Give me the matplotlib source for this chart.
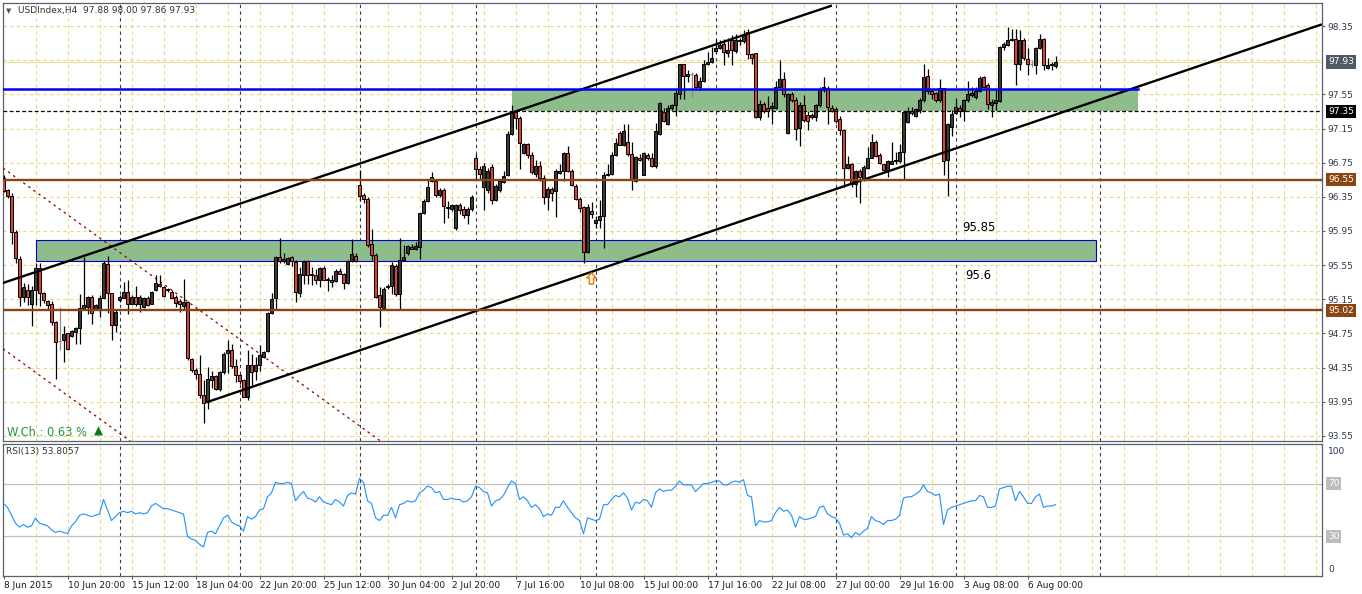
import matplotlib
matplotlib.use("Agg")
import matplotlib.pyplot as plt
from matplotlib.patches import Rectangle
from matplotlib.path import Path
from matplotlib.transforms import blended_transform_factory
import numpy as np

plt.rcParams['font.family'] = ['DejaVu Sans']

# ---------------- data (H4 bars, index 0 = 8 Jun 2015) ----------------
OPEN = [96.57, 96.43, 96.36, 95.94, 95.62, 95.18, 95.26, 95.10, 95.26, 95.52,
        95.22, 95.13, 95.09, 94.88, 94.66, 94.67, 94.75, 94.72, 94.77, 94.81,
        95.04, 95.06, 95.18, 95.03, 95.02, 95.17, 95.56, 95.22, 94.85, 95.14,
        95.17, 95.24, 95.10, 95.18, 95.10, 95.06, 95.16, 95.10, 95.26, 95.33,
        95.29, 95.27, 95.24, 95.18, 95.13, 95.07, 95.12, 94.45, 94.32, 94.27,
        94.03, 93.95, 94.21, 94.25, 94.10, 94.30, 94.52, 94.56, 94.37, 94.26,
        94.21, 94.01, 94.38, 94.31, 94.38, 94.47, 94.54, 94.99, 95.16, 95.65,
        95.60, 95.56, 95.64, 95.59, 95.22, 95.44, 95.60, 95.45, 95.44, 95.38,
        95.52, 95.39, 95.38, 95.36, 95.48, 95.45, 95.34, 95.60, 95.66, 96.49,
        96.37, 96.33, 95.80, 95.67, 95.20, 95.05, 95.30, 95.30, 95.54, 95.21,
        95.61, 95.69, 95.76, 95.74, 95.76, 96.155, 96.30, 96.58, 96.54, 96.37,
        96.43, 96.23, 96.21, 95.98, 96.25, 96.21, 96.14, 96.21, 96.80, 96.68,
        96.47, 96.43, 96.70, 96.31, 96.43, 96.52, 96.60, 97.08, 97.34, 97.27,
        96.86, 96.97, 96.84, 96.62, 96.71, 96.57, 96.35, 96.44, 96.42, 96.63,
        96.65, 96.86, 96.65, 96.48, 96.33, 96.23, 95.70, 96.18, 96.04, 96.08,
        96.12, 96.60, 96.62, 96.84, 97.10, 96.96, 96.99, 96.85, 96.54, 96.80,
        96.61, 96.84, 96.81, 96.71, 97.08, 97.34, 97.20, 97.39, 97.42, 97.56,
        97.90, 97.77, 97.79, 97.78, 97.64, 97.71, 97.90, 97.93, 98.06, 98.09,
        98.14, 98.04, 98.19, 98.06, 98.18, 98.17, 98.28, 98.02, 98.03, 97.28,
        97.44, 97.39, 97.39, 97.39, 97.64, 97.73, 97.10, 97.56, 97.48, 97.16,
        97.42, 97.31, 97.28, 97.28, 97.42, 97.60, 97.63, 97.39, 97.38, 97.26,
        97.13, 96.69, 96.74, 96.50, 96.65, 96.56, 96.69, 96.81, 96.99, 96.84,
        96.73, 96.66, 96.74, 96.77, 96.77, 96.88, 97.23, 97.35, 97.30, 97.37,
        97.48, 97.76, 97.59, 97.57, 97.48, 97.62, 96.78, 97.17, 97.33, 97.39,
        97.35, 97.48, 97.54, 97.52, 97.59, 97.75, 97.66, 97.43, 97.45, 97.47,
        98.10, 98.13, 98.19, 98.20, 97.90, 98.19, 97.96, 97.91, 97.89, 98.09,
        98.20, 97.86, 97.89, 97.88]

HIGH = [96.60, 96.44, 96.39, 95.96, 95.66, 95.34, 95.33, 95.30, 95.57, 95.57,
        95.23, 95.14, 95.13, 94.90, 95.06, 94.84, 94.76, 94.79, 94.83, 95.21,
        95.64, 95.19, 95.20, 95.09, 95.20, 95.60, 95.66, 95.22, 95.02, 95.20,
        95.35, 95.37, 95.20, 95.30, 95.20, 95.18, 95.19, 95.25, 95.43, 95.44,
        95.31, 95.28, 95.26, 95.20, 95.15, 95.39, 95.13, 94.46, 94.35, 94.50,
        94.20, 94.36, 94.31, 94.26, 94.31, 94.53, 94.67, 94.63, 94.45, 94.28,
        94.22, 94.56, 94.51, 94.47, 94.62, 94.54, 95.00, 95.22, 95.66, 95.87,
        95.69, 95.64, 95.66, 95.61, 95.53, 95.61, 95.61, 95.53, 95.51, 95.53,
        95.54, 95.41, 95.43, 95.50, 95.52, 95.46, 95.61, 95.86, 95.69, 96.66,
        96.39, 96.35, 95.97, 95.69, 95.29, 95.29, 95.33, 95.59, 95.56, 95.87,
        95.78, 95.78, 95.80, 95.82, 96.16, 96.33, 96.55, 96.64, 96.56, 96.45,
        96.45, 96.30, 96.27, 96.27, 96.28, 96.24, 96.23, 96.37, 96.85, 96.71,
        96.75, 96.69, 96.73, 96.50, 96.56, 96.65, 97.12, 97.43, 97.36, 97.30,
        96.98, 96.98, 96.88, 96.78, 96.77, 96.60, 96.46, 96.47, 96.67, 96.73,
        96.87, 96.94, 96.67, 96.50, 96.35, 96.24, 96.27, 96.29, 96.13, 96.31,
        96.64, 96.73, 96.87, 97.04, 97.12, 97.20, 97.20, 96.99, 96.83, 96.85,
        96.87, 96.86, 96.86, 97.21, 97.46, 97.39, 97.42, 97.44, 97.61, 97.91,
        97.91, 97.83, 97.81, 97.80, 97.75, 97.95, 98.05, 98.10, 98.20, 98.19,
        98.20, 98.21, 98.24, 98.26, 98.21, 98.30, 98.31, 98.03, 98.04, 97.48,
        97.46, 97.53, 97.46, 97.71, 97.95, 97.81, 97.57, 97.58, 97.52, 97.46,
        97.54, 97.36, 97.33, 97.44, 97.64, 97.75, 97.65, 97.42, 97.40, 97.30,
        97.14, 96.83, 96.75, 96.66, 96.68, 96.72, 96.93, 97.08, 97.01, 96.86,
        96.74, 96.78, 96.99, 96.87, 96.97, 97.35, 97.40, 97.40, 97.39, 97.51,
        97.91, 97.85, 97.61, 97.58, 97.73, 97.63, 97.21, 97.37, 97.51, 97.42,
        97.50, 97.71, 97.64, 97.64, 97.76, 97.76, 97.68, 97.50, 97.60, 98.12,
        98.16, 98.34, 98.32, 98.32, 98.30, 98.21, 98.09, 97.95, 98.10, 98.26,
        98.21, 97.98, 97.93, 98.00]

LOW = [96.41, 96.34, 95.80, 95.58, 95.07, 95.12, 95.08, 94.84, 95.08, 95.07,
       95.11, 95.02, 94.85, 94.22, 94.55, 94.41, 94.55, 94.71, 94.63, 94.63,
       95.04, 94.98, 94.86, 95.02, 94.94, 95.16, 94.99, 94.67, 94.77, 95.12,
       95.16, 94.98, 95.09, 95.07, 95.00, 95.05, 95.07, 95.09, 95.25, 95.29,
       95.18, 95.23, 95.16, 95.06, 95.00, 95.04, 94.44, 94.30, 94.22, 93.99,
       93.70, 93.87, 94.11, 94.09, 94.08, 94.28, 94.29, 94.35, 94.18, 94.16,
       94.00, 93.97, 94.15, 94.20, 94.31, 94.46, 94.53, 94.98, 95.04, 95.57,
       95.57, 95.55, 95.54, 95.12, 95.18, 95.33, 95.33, 95.32, 95.33, 95.29,
       95.37, 95.25, 95.29, 95.35, 95.45, 95.27, 95.33, 95.59, 95.59, 96.30,
       96.28, 95.76, 95.61, 95.17, 94.82, 95.04, 95.27, 95.21, 95.19, 95.02,
       95.60, 95.67, 95.74, 95.73, 95.62, 96.15, 96.29, 96.52, 96.35, 96.35,
       96.04, 96.10, 96.18, 95.96, 96.15, 96.10, 96.03, 96.18, 96.55, 96.55,
       96.20, 96.40, 96.27, 96.30, 96.41, 96.51, 96.59, 97.07, 97.14, 96.68,
       96.85, 96.81, 96.62, 96.58, 96.54, 96.27, 96.20, 96.30, 96.11, 96.62,
       96.54, 96.64, 96.48, 96.31, 96.17, 95.57, 95.69, 96.10, 95.98, 95.98,
       95.75, 96.59, 96.61, 96.83, 96.96, 96.95, 96.83, 96.43, 96.52, 96.77,
       96.60, 96.78, 96.70, 96.69, 97.07, 97.23, 97.19, 97.37, 97.30, 97.50,
       97.49, 97.69, 97.51, 97.62, 97.60, 97.70, 97.89, 97.92, 98.03, 98.08,
       97.89, 97.99, 97.89, 98.03, 98.13, 98.15, 97.96, 97.91, 97.27, 97.25,
       97.33, 97.28, 97.20, 97.38, 97.63, 97.52, 97.08, 97.46, 97.02, 96.95,
       97.23, 97.13, 97.26, 97.24, 97.40, 97.58, 97.20, 97.34, 97.22, 97.07,
       96.47, 96.67, 96.46, 96.35, 96.28, 96.54, 96.68, 96.80, 96.82, 96.73,
       96.65, 96.58, 96.73, 96.74, 96.75, 96.55, 97.22, 97.31, 97.28, 97.33,
       97.46, 97.56, 97.49, 97.46, 97.46, 96.60, 96.36, 97.06, 97.32, 97.28,
       97.24, 97.46, 97.52, 97.49, 97.58, 97.62, 97.38, 97.29, 97.37, 97.46,
       98.07, 98.12, 98.17, 97.66, 97.84, 97.95, 97.78, 97.87, 97.79, 98.08,
       97.83, 97.85, 97.84, 97.86]

CLOSE = [96.42, 96.36, 95.94, 95.63, 95.18, 95.29, 95.18, 95.26, 95.52, 95.22,
         95.14, 95.08, 94.88, 94.65, 94.66, 94.74, 94.57, 94.78, 94.81, 95.05,
         95.08, 95.18, 94.99, 95.08, 95.16, 95.58, 95.22, 94.85, 95.00, 95.18,
         95.23, 95.10, 95.18, 95.09, 95.18, 95.16, 95.08, 95.24, 95.34, 95.30,
         95.19, 95.26, 95.16, 95.11, 95.09, 95.12, 94.46, 94.32, 94.27, 94.03,
         93.93, 94.22, 94.25, 94.10, 94.30, 94.51, 94.55, 94.37, 94.26, 94.19,
         94.01, 94.38, 94.30, 94.38, 94.50, 94.53, 94.99, 95.15, 95.65, 95.60,
         95.62, 95.63, 95.60, 95.23, 95.45, 95.60, 95.44, 95.43, 95.37, 95.52,
         95.38, 95.37, 95.35, 95.48, 95.45, 95.34, 95.60, 95.68, 95.60, 96.36,
         96.33, 95.79, 95.67, 95.18, 95.06, 95.27, 95.29, 95.55, 95.21, 95.61,
         95.65, 95.77, 95.74, 95.77, 96.155, 96.30, 96.46, 96.54, 96.37, 96.43,
         96.24, 96.22, 96.25, 96.25, 96.20, 96.14, 96.21, 96.35, 96.68, 96.62,
         96.71, 96.65, 96.31, 96.48, 96.53, 96.59, 97.08, 97.33, 97.27, 96.98,
         96.97, 96.84, 96.64, 96.71, 96.57, 96.35, 96.44, 96.40, 96.65, 96.65,
         96.86, 96.65, 96.49, 96.33, 96.22, 95.70, 96.23, 96.15, 96.08, 96.12,
         96.61, 96.62, 96.84, 96.98, 96.96, 97.12, 96.85, 96.55, 96.82, 96.78,
         96.86, 96.80, 96.71, 97.12, 97.45, 97.24, 97.39, 97.42, 97.57, 97.90,
         97.77, 97.79, 97.79, 97.64, 97.71, 97.90, 97.93, 97.98, 98.09, 98.13,
         98.05, 98.07, 98.07, 98.19, 98.19, 98.26, 98.02, 97.98, 97.28, 97.44,
         97.35, 97.35, 97.41, 97.64, 97.73, 97.56, 97.56, 97.48, 97.15, 97.42,
         97.25, 97.24, 97.31, 97.42, 97.61, 97.64, 97.40, 97.35, 97.24, 97.13,
         96.69, 96.73, 96.50, 96.65, 96.58, 96.70, 96.81, 96.99, 96.83, 96.75,
         96.66, 96.77, 96.77, 96.78, 96.88, 97.34, 97.35, 97.33, 97.38, 97.48,
         97.75, 97.59, 97.55, 97.48, 97.62, 96.77, 97.20, 97.32, 97.40, 97.35,
         97.48, 97.56, 97.57, 97.59, 97.74, 97.64, 97.44, 97.46, 97.48, 98.11,
         98.14, 98.19, 98.20, 97.90, 98.19, 97.98, 97.90, 97.91, 98.09, 98.20,
         97.89, 97.89, 97.90, 97.93]

RSI = [55, 52, 46, 40, 37, 39, 37, 38, 44, 40,
       39, 38, 35, 33, 34, 33, 32, 38, 41, 46,
       47, 46, 45, 46, 47, 58, 50, 42, 45, 48,
       49, 48, 49, 47, 48, 47, 48, 53, 55, 53,
       51, 51, 50, 49, 48, 47, 30, 28, 27, 24,
       22, 33, 34, 32, 38, 44, 46, 41, 39, 38,
       34, 45, 43, 45, 50, 51, 60, 63, 71, 70,
       70, 71, 70, 57, 61, 64, 59, 58, 56, 60,
       56, 55, 54, 58, 56, 53, 61, 63, 62, 74,
       71, 57, 55, 44, 42, 46, 46, 52, 44, 54,
       55, 57, 56, 57, 63, 65, 68, 67, 63, 64,
       58, 58, 59, 58, 58, 56, 57, 60, 68, 67,
       64, 63, 53, 57, 58, 61, 67, 72, 70, 58,
       60, 57, 52, 54, 51, 45, 47, 46, 52, 52,
       57, 52, 48, 44, 42, 32, 44, 43, 42, 43,
       54, 54, 58, 61, 60, 63, 59, 50, 56, 55,
       58, 57, 52, 63, 66, 64, 65, 65, 68, 72,
       69, 69, 69, 64, 67, 70, 70, 71, 72, 72,
       69, 69, 71, 72, 71, 73, 61, 60, 38, 42,
       41, 41, 42, 48, 52, 49, 50, 46, 37, 45,
       43, 43, 44, 45, 52, 53, 47, 45, 44, 40,
       31, 32, 29, 33, 31, 34, 36, 45, 42, 41,
       39, 42, 42, 43, 46, 59, 60, 60, 62, 64,
       69, 64, 63, 61, 62, 39, 50, 52, 53, 54,
       55, 56, 57, 57, 61, 60, 52, 52, 53, 66,
       67, 68, 68, 57, 64, 60, 55, 55, 60, 62,
       52, 53, 53, 54.0]

DATE_LABELS = ["8 Jun 2015", "10 Jun 20:00", "15 Jun 12:00", "18 Jun 04:00",
               "22 Jun 20:00", "25 Jun 12:00", "30 Jun 04:00", "2 Jul 20:00",
               "7 Jul 16:00", "10 Jul 08:00", "15 Jul 00:00", "17 Jul 16:00",
               "22 Jul 08:00", "27 Jul 00:00", "29 Jul 16:00", "3 Aug 08:00",
               "6 Aug 00:00"]
DATE_BARS = [0, 16, 32, 48, 64, 80, 96, 112, 128, 144, 160, 176, 192, 208, 224, 240, 256]
WEEK_SEPARATORS = [29, 59, 89, 118, 148, 178, 208, 238, 274]
PRICE_TICKS = [98.35, 97.55, 97.15, 96.75, 96.35, 95.95, 95.55, 95.15,
               94.75, 94.35, 93.95, 93.55]
PRICE_GRID = [98.35, 97.95, 97.55, 97.15, 96.75, 96.35, 95.95, 95.55, 95.15,
              94.75, 94.35, 93.95, 93.55]
GRID_BARS = list(range(8, 330, 8))

# analyst objects (bar index, price)
CHANNEL_UPPER = [(-0.2, 95.34), (207.1, 98.59)]
CHANNEL_LOWER = [(50.8, 93.944), (329.6, 98.37)]
DOWN_LINE_1 = [(-0.05, 96.684), (93.3, 93.522)]
DOWN_LINE_2 = [(-0.05, 94.568), (30.4, 93.534)]
ZONE_LOW = (8, 273, 95.60, 95.85)
ZONE_HIGH = (127, 283.6, 97.35, 97.61)
BLUE_LEVEL = (97.61, 283.6)
SUPPORT_LEVELS = [96.55, 95.02]
DASHED_LEVEL = 97.35
BID = 97.93
ARROW_AT = (146.9, 95.40)

# ---------------- figure ----------------
W, H = 1362, 594
fig = plt.figure(figsize=(W / 100, H / 100), dpi=100)
fig.patch.set_facecolor('white')


def rect(x0, y0, x1, y1):
    return [x0 / W, 1 - y1 / H, (x1 - x0) / W, (y1 - y0) / H]


ax = fig.add_axes(rect(3, 3, 1322, 441))
axr = fig.add_axes(rect(3, 444, 1322, 576))
XLIM = (-0.125, 329.625)
for a in (ax, axr):
    a.set_xlim(*XLIM)
    a.set_facecolor('white')
    for s in a.spines.values():
        s.set_color('#56616B')
        s.set_linewidth(0.9)
ax.set_ylim(93.49, 98.62)
axr.set_ylim(0, 100)

GRID_C = '#E8D87A'
SEP_C = '#3C3C3C'
for a in (ax, axr):
    for b in GRID_BARS:
        a.axvline(b, color=GRID_C, lw=0.8, ls=(0, (3, 3)), zorder=0.5)
    for b in WEEK_SEPARATORS:
        a.axvline(b, color=SEP_C, lw=0.8, ls=(0, (3, 3)), zorder=0.7)
for p in PRICE_GRID:
    ax.axhline(p, color=GRID_C, lw=0.8, ls=(0, (3, 3)), zorder=0.5)
ax.axhline(BID, color='#E9E2A6', lw=0.9, zorder=0.6)

GREEN = '#8FBC8B'
x0, x1, p0, p1 = ZONE_LOW
ax.add_patch(Rectangle((x0, p0), x1 - x0, p1 - p0, fc=GREEN, ec='#0000CC', lw=0.8, zorder=1))
x0, x1, p0, p1 = ZONE_HIGH
ax.add_patch(Rectangle((x0, p0), x1 - x0, p1 - p0, fc=GREEN, ec='none', lw=0, zorder=1))

# candles
x = np.arange(len(OPEN))
o = np.array(OPEN); h = np.array(HIGH); l = np.array(LOW); c = np.array(CLOSE)
up = c > o
dn = c < o
dj = c == o
ax.vlines(x[~dj], l[~dj], h[~dj], color='black', lw=0.9, zorder=4)
ax.vlines(x[dj], l[dj], h[dj], color='#8A8A8A', lw=0.9, zorder=4)
BW = 0.6
ax.bar(x[up], np.maximum((c - o)[up], 0.012), bottom=o[up], width=BW,
       color='#3A3A3A', edgecolor='black', lw=0.7, zorder=5)
ax.bar(x[dn], np.maximum((o - c)[dn], 0.012), bottom=c[dn], width=BW,
       color='#D9443A', edgecolor='black', lw=0.7, zorder=5)
ax.hlines(c[dj], x[dj] - 0.4, x[dj] + 0.4, color='#8A8A8A', lw=0.9, zorder=5)

# lines
for seg in (CHANNEL_UPPER, CHANNEL_LOWER):
    ax.plot([seg[0][0], seg[1][0]], [seg[0][1], seg[1][1]], color='black',
            lw=1.7, solid_capstyle='butt', zorder=7)
for seg in (DOWN_LINE_1, DOWN_LINE_2):
    ax.axline(seg[0], seg[1], color='#8B0000', lw=0.9, ls=(0, (2, 3)), zorder=3)
for lv in SUPPORT_LEVELS:
    ax.axhline(lv, color='#8B4513', lw=1.7, zorder=7)
ax.plot([-1, BLUE_LEVEL[1]], [BLUE_LEVEL[0], BLUE_LEVEL[0]], color='#0000FF', lw=1.8, zorder=7)
ax.axhline(DASHED_LEVEL, color='black', lw=0.9, ls=(0, (3, 2)), zorder=7)

ax.text(239.6, 95.985, '95.85', fontsize=8.5, color='black', va='center', ha='left', zorder=8)
ax.text(240.4, 95.423, '95.6', fontsize=8.5, color='black', va='center', ha='left', zorder=8)

# hollow up-arrow marker (buy signal)
arrow_path = Path([(0, 1), (-0.85, 0.1), (-0.38, 0.1), (-0.38, -1), (0.38, -1),
                   (0.38, 0.1), (0.85, 0.1), (0, 1)],
                  [Path.MOVETO] + [Path.LINETO] * 6 + [Path.CLOSEPOLY])
ax.plot([ARROW_AT[0]], [ARROW_AT[1]], marker=arrow_path, markersize=8,
        mfc='white', mec='#F08000', mew=1.1, ls='none', zorder=8)

# right price axis
ax.yaxis.tick_right()
ax.set_yticks(PRICE_TICKS)
ax.set_yticklabels([f'{v:.2f}' for v in PRICE_TICKS])
ax.tick_params(axis='y', direction='out', length=2.2, width=0.8, color='#56616B',
               labelsize=6.5, labelcolor='#2B3A4A', pad=2)
ax.set_xticks([])

tr = blended_transform_factory(ax.transAxes, ax.transData)
for val, fc in [(BID, '#4F5B66'), (DASHED_LEVEL, '#000000'),
                (SUPPORT_LEVELS[0], '#8B4513'), (SUPPORT_LEVELS[1], '#8B4513')]:
    ax.text(1.0045, val, f'{val:.2f}', transform=tr, fontsize=6.5, color='white',
            va='center', ha='left', clip_on=False, zorder=10,
            bbox=dict(boxstyle='square,pad=0.25', fc=fc, ec='none'))

# RSI pane
axr.plot(x, RSI, color='#1E90FF', lw=0.8, zorder=5)
axr.axhline(70, color='#C0C0C0', lw=0.9, zorder=1)
axr.axhline(30, color='#C0C0C0', lw=0.9, zorder=1)
axr.set_yticks([])
trr = blended_transform_factory(axr.transAxes, axr.transData)
axr.text(1.0045, 94, '100', transform=trr, fontsize=6.5, color='#2B3A4A', va='center', ha='left', clip_on=False)
axr.text(1.0045, 5, '0', transform=trr, fontsize=6.5, color='#2B3A4A', va='center', ha='left', clip_on=False)
for lv in (70, 30):
    axr.text(1.0045, lv, str(lv), transform=trr, fontsize=6.5, color='white', va='center',
             ha='left', clip_on=False, bbox=dict(boxstyle='square,pad=0.2', fc='#BDBDBD', ec='none'))
axr.text(0.0023, 94, 'RSI(13) 53.8057', transform=trr, fontsize=6.5, color='#333333',
         va='center', ha='left')
axr.set_xticks(DATE_BARS)
axr.set_xticklabels(DATE_LABELS, ha='left')
axr.tick_params(axis='x', direction='out', length=2, width=0.8, color='#56616B',
                labelsize=6.5, labelcolor='#1A1A1A', pad=1.5)

# header texts
fig.text(6 / W, 1 - 11 / H, '\u25bc', fontsize=5, color='#555555', va='center', ha='left')
fig.text(18 / W, 1 - 11 / H, 'USDIndex,H4  97.88 98.00 97.86 97.93', fontsize=6.5,
         color='#333333', va='center', ha='left')
fig.text(7 / W, 1 - 432 / H, 'W.Ch.: 0.63 %', fontsize=8.3, color='#27963C', va='center', ha='left')
fig.text(94 / W, 1 - 431 / H, '\u25b2', fontsize=8.5, color='#0E7A1E', va='center', ha='left')

fig.savefig('out.png', dpi=100, facecolor='white')
